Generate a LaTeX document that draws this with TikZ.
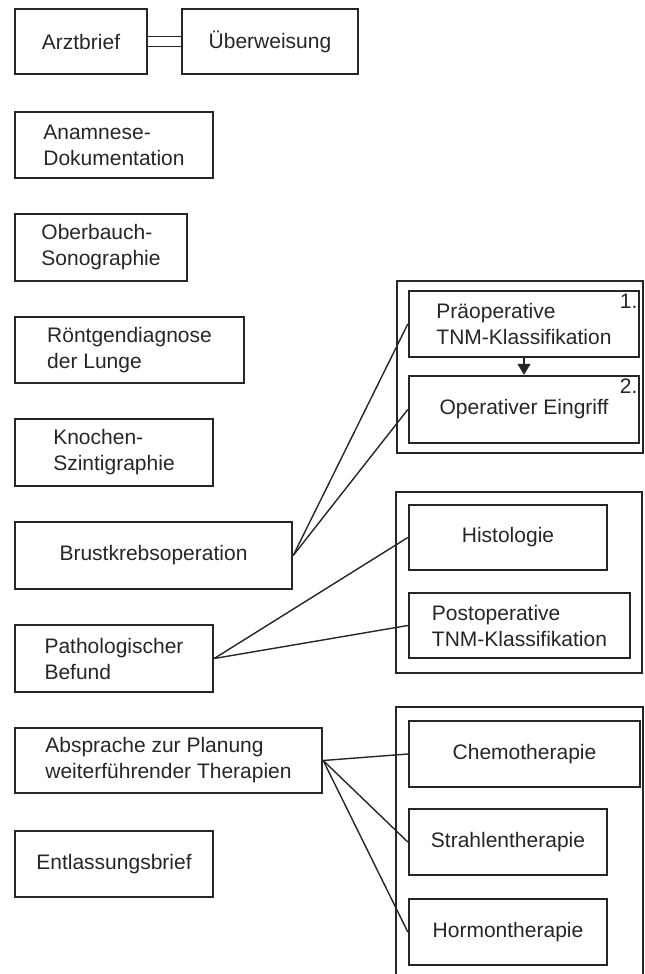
\documentclass[tikz,border=0pt]{standalone}
\usepackage{fontspec}
\setmainfont{Liberation Sans}
\usepackage{tikz}
\usetikzlibrary{arrows.meta}
\usetikzlibrary{positioning}
\definecolor{tinte}{HTML}{262626}
\tikzset{every picture/.style={line width=0.75pt}}
\tikzset{
  kasten/.style={draw=tinte, text=tinte, line width=1.2pt, inner sep=0pt, align=left, font=\fontsize{10.5}{13}\selectfont},
  rahmen/.style={draw=tinte, line width=0.8pt},
  verbindung/.style={draw=tinte, line width=0.7pt},
  nummer/.style={text=tinte, inner sep=1.5pt, font=\fontsize{10.5}{13}\selectfont}
}

\begin{document}
\begin{tikzpicture}[x=0.5pt, y=-0.5pt]
\useasboundingbox (0,0) rectangle (644,974);

% linke Spalte
\node[kasten, minimum width=66pt, minimum height=32.5pt] (arzt) at (81,41.5) {Arztbrief};
\node[kasten, minimum width=88pt, minimum height=32.5pt] (ueber) at (270,41.5) {Überweisung};
\node[kasten, minimum width=99pt, minimum height=33pt] (anamnese) at (114,145) {Anamnese-\\Dokumentation};
\node[kasten, minimum width=86pt, minimum height=33.5pt] (sono) at (101,247.5) {Oberbauch-\\Sonographie};
\node[kasten, minimum width=114.5pt, minimum height=33pt] (roentgen) at (129.5,350) {Röntgendiagnose\\der Lunge};
\node[kasten, minimum width=99pt, minimum height=33.5pt] (szinti) at (114,452.5) {Knochen-\\Szintigraphie};
\node[kasten, minimum width=138.5pt, minimum height=33.5pt] (op) at (153.5,555.5) {Brustkrebsoperation};
\node[kasten, minimum width=99pt, minimum height=33.5pt] (patho) at (114,658.5) {Pathologischer\\Befund};
\node[kasten, minimum width=153.5pt, minimum height=32.5pt] (absprache) at (168.5,760.5) {Absprache zur Planung\\weiterführender Therapien};
\node[kasten, minimum width=99pt, minimum height=33pt] (entlass) at (114,864) {Entlassungsbrief};

\draw[draw=tinte, double, double distance=4.25pt, line width=0.75pt] (arzt.east) -- (ueber.west);

% rechte Spalte
\draw[rahmen] (397,281) rectangle (643,453);
\node[kasten, minimum width=115pt, minimum height=33pt] (prae) at (524,324) {Präoperative\\TNM-Klassifikation};
\node[kasten, minimum width=115pt, minimum height=33.5pt] (eingriff) at (524,409.5) {Operativer Eingriff};
\node[nummer, anchor=north east] (nr1) at ([xshift=0.5pt]prae.north east) {1.};
\node[nummer, anchor=north east] (nr2) at ([xshift=0.5pt]eingriff.north east) {2.};
\draw[draw=tinte, line width=0.7pt, -{Triangle[width=6.5pt, length=5.5pt]}] (prae.south) -- (eingriff.north);

\draw[rahmen] (396,492) rectangle (642,673);
\node[kasten, minimum width=99pt, minimum height=32.5pt] (histo) at (508,537.5) {Histologie};
\node[kasten, minimum width=110.5pt, minimum height=32.5pt] (postop) at (519.5,625.5) {Postoperative\\TNM-Klassifikation};

\draw[rahmen] (396,974) |- (643,707) -- (643,974);
\node[kasten, minimum width=115.5pt, minimum height=33pt] (chemo) at (524.5,754) {Chemotherapie};
\node[kasten, minimum width=99pt, minimum height=33pt] (strahl) at (508,842) {Strahlentherapie};
\node[kasten, minimum width=99pt, minimum height=33pt] (hormon) at (508,932) {Hormontherapie};

% Verbindungen
\draw[verbindung] (op.east) -- (prae.west);
\draw[verbindung] (op.east) -- (eingriff.west);
\draw[verbindung] (patho.east) -- (histo.west);
\draw[verbindung] (patho.east) -- (postop.west);
\draw[verbindung] (absprache.east) -- (chemo.west);
\draw[verbindung] (absprache.east) -- (strahl.west);
\draw[verbindung] (absprache.east) -- (hormon.west);
\end{tikzpicture}
\end{document}
